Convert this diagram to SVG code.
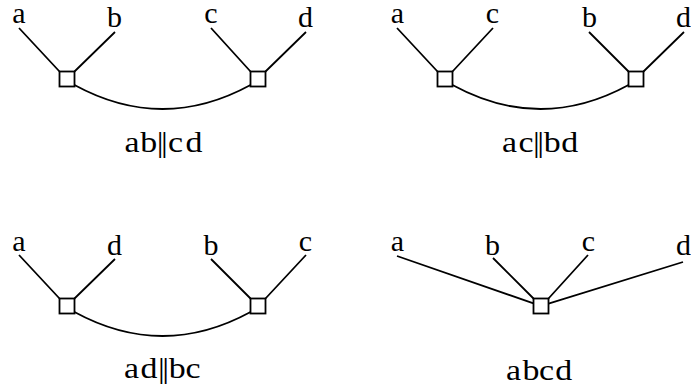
<svg xmlns="http://www.w3.org/2000/svg" width="691" height="389" viewBox="0 0 691 389">
<style>
.e{stroke:#000;stroke-width:1.8;fill:none;stroke-linecap:butt}
.n{fill:#fff;stroke:#000;stroke-width:1.8}
text{font-family:'Liberation Serif','DejaVu Serif',serif;font-size:30px;fill:#000}
.l{text-anchor:middle}
</style>
<rect width="691" height="389" fill="#fff"/>
<g id="connectors">
<path class="e" d="M19,28L59.5,71.5M115,32L74.5,71.5M211,28L250.5,71.5M306,32L265.5,71.5M74.5,85Q162.5,133 250.5,85"/>
<path class="e" d="M397,28L437.5,71.5M493,28L452.5,71.5M589,32L628.5,71.5M684,32L643.5,71.5M452.5,85Q540.5,133 628.5,85"/>
<path class="e" d="M19,255L59.5,298.5M115,259L74.5,298.5M211,259L250.5,298.5M306,255L265.5,298.5M74.5,312Q162.5,360 250.5,312"/>
<path class="e" d="M397,256L533.5,303.4M493,258L533.5,298.5M588,255L548.5,298.5M683,262L548.5,303.7"/>
</g>
<g id="panel1">
<g id="p1-a"><text class="l" x="19" y="23">a</text></g>
<g id="p1-b"><text class="l" x="114.5" y="27">b</text></g>
<g id="p1-c"><text class="l" x="211" y="23">c</text></g>
<g id="p1-d"><text class="l" x="305.5" y="27">d</text></g>
<g id="p1-u"><rect class="n" x="59.5" y="71.5" width="15" height="15"/></g>
<g id="p1-v"><rect class="n" x="250.5" y="71.5" width="15" height="15"/></g>
<g id="p1-label" transform="translate(124.5,152) scale(1.13,1)"><text x="0 14 28.5 32.3 38.5 54" y="0">ab||cd</text></g>
</g>
<g id="panel2">
<g id="p2-a"><text class="l" x="397.5" y="23">a</text></g>
<g id="p2-c"><text class="l" x="492.5" y="23">c</text></g>
<g id="p2-b"><text class="l" x="589.5" y="27">b</text></g>
<g id="p2-d"><text class="l" x="683.5" y="27">d</text></g>
<g id="p2-u"><rect class="n" x="437.5" y="71.5" width="15" height="15"/></g>
<g id="p2-v"><rect class="n" x="628.5" y="71.5" width="15" height="15"/></g>
<g id="p2-label" transform="translate(502,152) scale(1.13,1)"><text x="0 14.5 27.5 31.3 37 52.5" y="0">ac||bd</text></g>
</g>
<g id="panel3">
<g id="p3-a"><text class="l" x="19" y="251">a</text></g>
<g id="p3-d"><text class="l" x="114.5" y="255">d</text></g>
<g id="p3-b"><text class="l" x="211" y="255">b</text></g>
<g id="p3-c"><text class="l" x="305.5" y="251">c</text></g>
<g id="p3-u"><rect class="n" x="59.5" y="298.5" width="15" height="15"/></g>
<g id="p3-v"><rect class="n" x="250.5" y="298.5" width="15" height="15"/></g>
<g id="p3-label" transform="translate(124,378) scale(1.13,1)"><text x="0 14.5 30 33.8 39.5 54.5" y="0">ad||bc</text></g>
</g>
<g id="panel4">
<g id="p4-a"><text class="l" x="397.5" y="251">a</text></g>
<g id="p4-b"><text class="l" x="492.5" y="255">b</text></g>
<g id="p4-c"><text class="l" x="588.5" y="251">c</text></g>
<g id="p4-d"><text class="l" x="683.5" y="255">d</text></g>
<g id="p4-u"><rect class="n" x="533.5" y="298.5" width="15" height="15"/></g>
<g id="p4-label" transform="translate(506,380) scale(1.13,1)"><text x="0 14.5 29.3 43.5" y="0">abcd</text></g>
</g>
</svg>
